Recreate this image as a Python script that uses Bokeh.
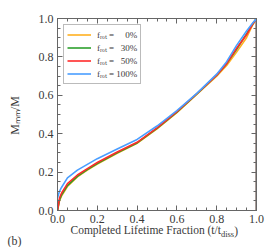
import math
from bokeh.plotting import figure
from bokeh.models import Range1d, LinearAxis, FixedTicker, Legend, LegendItem, Label
from bokeh.embed import file_html
from bokeh.resources import INLINE

# ---- data ----
t_frac = [0.0, 0.01, 0.02, 0.05, 0.1, 0.15, 0.2, 0.3, 0.4, 0.5, 0.6, 0.7, 0.8, 0.85, 0.9, 0.95, 0.98, 1.0, 1.0]
m_f0 = [0.0, 0.05, 0.075, 0.125, 0.175, 0.21, 0.242, 0.298, 0.35, 0.425, 0.51, 0.605, 0.70, 0.755, 0.825, 0.90, 0.965, 1.0, 0.0]
m_f30 = [0.0, 0.055, 0.08, 0.13, 0.178, 0.213, 0.245, 0.30, 0.352, 0.428, 0.512, 0.607, 0.705, 0.765, 0.84, 0.92, 0.97, 1.0, 0.0]
m_f50 = [0.0, 0.065, 0.09, 0.14, 0.185, 0.218, 0.25, 0.305, 0.355, 0.43, 0.515, 0.608, 0.705, 0.765, 0.845, 0.915, 0.97, 1.0, 0.0]
m_f100 = [0.065, 0.10, 0.12, 0.17, 0.21, 0.24, 0.27, 0.32, 0.37, 0.44, 0.52, 0.61, 0.71, 0.775, 0.86, 0.935, 0.975, 1.0, 0.0]

series_labels = ["f\u1d63\u2092\u209c =\u00a0\u00a0\u00a0\u00a0\u00a00%",
                 "f\u1d63\u2092\u209c =\u00a0\u00a0\u00a030%",
                 "f\u1d63\u2092\u209c =\u00a0\u00a0\u00a050%",
                 "f\u1d63\u2092\u209c =\u00a0100%"]
series_colors = ["#ffb020", "#2ca02c", "#ff2a2a", "#4a9eff"]

tick_values = [0.0, 0.2, 0.4, 0.6, 0.8, 1.0]
tick_labels = ["0.0", "0.2", "0.4", "0.6", "0.8", "1.0"]
minor_values = [i * 0.05 for i in range(21)]

FONT = "Liberation Serif"
TXT = "#3a3a3a"
AX = "#666666"

p = figure(frame_width=199, frame_height=192, output_backend="svg", toolbar_location=None,
           x_range=Range1d(0, 1), y_range=Range1d(0, 1),
           min_border_left=57, min_border_right=14, min_border_top=18, min_border_bottom=37)
p.grid.visible = False
p.outline_line_color = None
p.background_fill_color = "white"
p.border_fill_color = "white"

p.add_layout(LinearAxis(), "above")
p.add_layout(LinearAxis(), "right")

for ax in p.axis:
    ax.ticker = FixedTicker(ticks=tick_values, minor_ticks=minor_values)
    ax.major_label_overrides = {v: s for v, s in zip(tick_values, tick_labels)}
    ax.major_tick_in = 5
    ax.major_tick_out = 0
    ax.minor_tick_in = 3
    ax.minor_tick_out = 0
    ax.axis_line_color = AX
    ax.major_tick_line_color = AX
    ax.minor_tick_line_color = AX
    ax.major_label_text_font = FONT
    ax.major_label_text_font_size = "12px"
    ax.major_label_text_color = TXT
    ax.major_label_standoff = 4

for ax in p.above + p.right:
    ax.major_label_text_font_size = "0px"
    ax.major_label_text_color = None
    ax.major_label_standoff = 0

ys = [m_f0, m_f30, m_f50, m_f100]
items = []
for y, c, lab_text in zip(ys, series_colors, series_labels):
    r = p.line(t_frac, y, line_color=c, line_width=1.6)
    items.append(LegendItem(label=lab_text, renderers=[r]))

legend = Legend(items=items, location="top_left", margin=6,
                label_text_font=FONT, label_text_font_size="9px", label_text_color=TXT,
                label_text_line_height=0.9,
                label_height=7, glyph_height=7, glyph_width=24, label_standoff=6,
                spacing=0, padding=3, border_line_color="#777777", border_line_width=1,
                background_fill_color="white", background_fill_alpha=1.0)
p.add_layout(legend)

def lab(text, x, y, size, angle=0.0, align="left"):
    return Label(x=x, y=y, x_units="screen", y_units="screen", text=text, angle=angle,
                 text_font=FONT, text_font_size=size, text_color=TXT,
                 text_baseline="middle", text_align=align)

# x-axis label pieces, one per side panel so they do not stack
p.add_layout(lab("Completed Lifetime Fraction (t/t", 13, 8, "11.5px"), "below")
p.add_layout(lab("diss", -35.6, -23, "8.5px"), "right")
p.add_layout(lab(")", 13 + 150.4 + 13.3, -212, "11.5px"), "above")

# y-axis label (rotated) and panel tag
p.add_layout(lab("M\u2098\u2098/M", -7, 95, "12px", math.pi / 2, "center"), "left")
p.add_layout(lab("(b)", 0, -30, "12px"), "left")

open("out.html", "w").write(file_html(p, INLINE))
